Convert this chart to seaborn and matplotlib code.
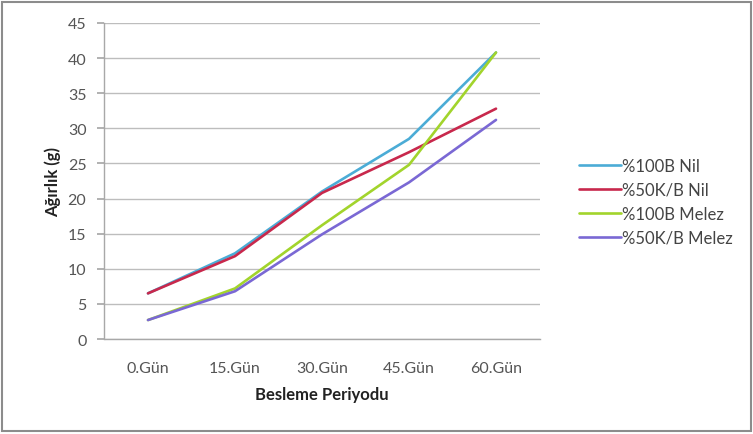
import matplotlib
matplotlib.use("Agg")
import matplotlib.pyplot as plt
import seaborn as sns
import pandas as pd
from matplotlib.patches import Rectangle

# Feeding periods and mean weights (g) per group
periods = ["0.Gün", "15.Gün", "30.Gün", "45.Gün", "60.Gün"]
groups = ["%100B Nil", "%50K/B Nil", "%100B Melez", "%50K/B Melez"]
b100_nil = [6.5, 12.2, 21.0, 28.5, 40.8]
k50_nil = [6.5, 11.8, 20.8, 26.6, 32.8]
b100_melez = [2.7, 7.2, 16.2, 24.8, 40.8]
k50_melez = [2.7, 6.8, 14.9, 22.3, 31.2]
yticks = list(range(0, 50, 5))

colors = ["#4bacd6", "#c8284c", "#a2d42c", "#7a68d4"]

rows = []
for g, vals in zip(groups, [b100_nil, k50_nil, b100_melez, k50_melez]):
    for p, v in zip(periods, vals):
        rows.append({"Periyot": p, "Ağırlık": v, "Grup": g})
df = pd.DataFrame(rows)

sns.set_theme(style="white")
plt.rcParams["font.family"] = ["Lato", "DejaVu Sans"]

fig = plt.figure(figsize=(7.53, 4.35), dpi=100)
ax = fig.add_axes([104.5 / 753, 1 - 340 / 435, (539.5 - 104.5) / 753, (340 - 24) / 435])

sns.lineplot(data=df, x="Periyot", y="Ağırlık", hue="Grup", hue_order=groups,
             palette=colors, sort=False, linewidth=1.9, ax=ax)

ax.set_xlim(-0.5, 4.5)
ax.set_ylim(0, 45)
ax.set_yticks(yticks)
ax.set_yticklabels([str(t) for t in yticks])
ax.grid(axis="y", color="#bdbdbd", linewidth=1.0)
ax.set_axisbelow(True)
for side in ["top", "right"]:
    ax.spines[side].set_visible(False)
for side in ["left", "bottom"]:
    ax.spines[side].set_color("#a8a8a8")
    ax.spines[side].set_linewidth(1.0)
ax.tick_params(axis="y", which="major", left=True, length=5, color="#a8a8a8",
               labelsize=11.5, labelcolor="#555555", pad=8)
ax.tick_params(axis="x", bottom=False, labelsize=11.5, labelcolor="#555555", pad=10)

ax.set_xlabel("Besleme Periyodu", fontsize=12, fontweight="bold", color="#222222", labelpad=8)
ax.set_ylabel("Ağırlık (g)", fontsize=12, fontweight="bold", color="#222222", labelpad=5)

ax.legend(title=None, loc="center left", bbox_to_anchor=(564 / 753, 1 - 203 / 435),
          bbox_transform=fig.transFigure, frameon=False, fontsize=12,
          handlelength=2.5, handletextpad=0.1, labelspacing=0.48,
          labelcolor="#444444")

fig.patches.append(Rectangle((0.003, 0.006), 0.994, 0.988, transform=fig.transFigure,
                             fill=False, edgecolor="#8c8c8c", linewidth=1.5))

fig.savefig("out.png", dpi=100, facecolor="white")
